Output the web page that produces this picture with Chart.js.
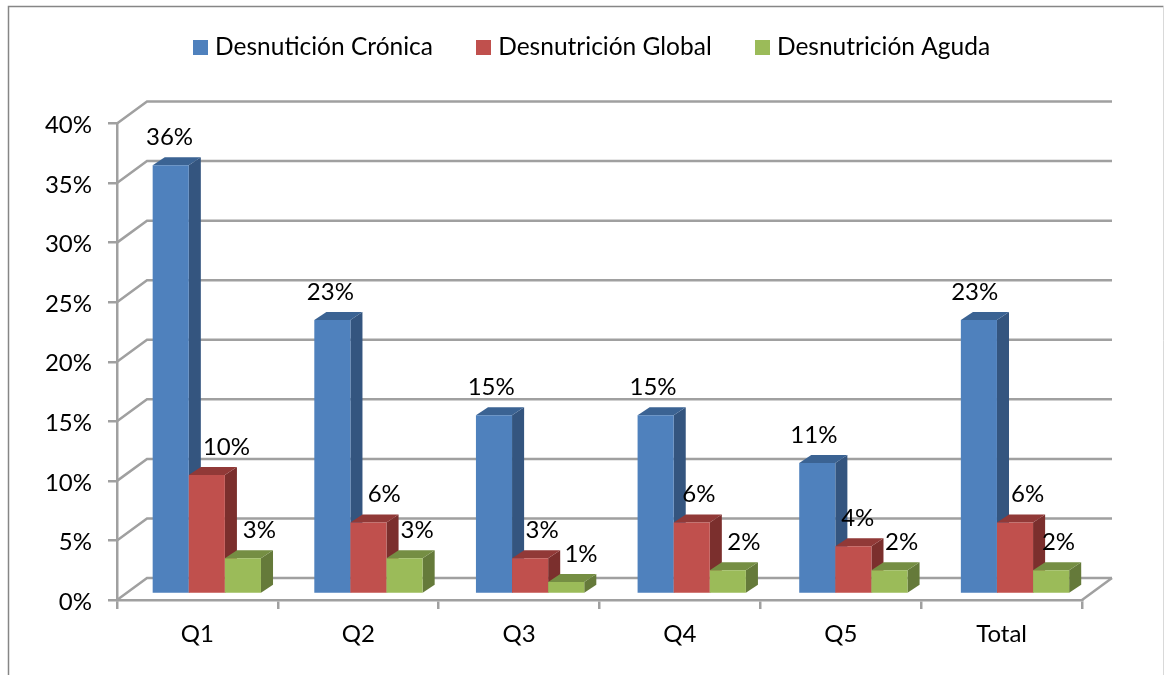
<!DOCTYPE html>
<html>
<head>
<meta charset="utf-8">
<title>Desnutrición por quintil</title>
<script src="https://cdn.jsdelivr.net/npm/chart.js@4/dist/chart.umd.min.js"></script>
<style>
  html, body { margin: 0; padding: 0; background: #fff; overflow: hidden; }
  canvas { display: block; }
</style>
</head>
<body>
<canvas id="grafico" width="1164" height="675"></canvas>
<script>
var categorias = ['Q1', 'Q2', 'Q3', 'Q4', 'Q5', 'Total'];
var cronica = [36, 23, 15, 15, 11, 23];
var global = [10, 6, 3, 6, 4, 6];
var aguda = [3, 3, 1, 2, 2, 2];

var gris = '#a0a0a0';
var fuente = 'Lato, sans-serif';

// frente, lado, tapa
var azul = ['#4f81bd', '#34557f', '#3b6393'];
var rojo = ['#c0504d', '#7b2f2d', '#913937'];
var verde = ['#9bbb59', '#657a3a', '#758e43'];
var colores = [azul, rojo, verde];

// las etiquetas del original estan movidas a mano, una por una
var etiquetaX = [
    [-1, -1, -1, 0, 0, 0],
    [20, 17, 14, 10, 8, 17],
    [17, 14, 17, 19, 16, 12]
];
var etiquetaY = -28;

// profundidad del grafico
var paredX = 30, paredY = -22;
var barraX = 9, barraY = -6;
var fondoX = 12, fondoY = -8;
var estira = 1.005;

function poligono(ctx, color, puntos) {
    ctx.fillStyle = color;
    ctx.beginPath();
    ctx.moveTo(puntos[0], puntos[1]);
    for (var i = 2; i < puntos.length; i += 2) {
        ctx.lineTo(puntos[i], puntos[i + 1]);
    }
    ctx.closePath();
    ctx.fill();
}

// cuadradito de la leyenda
function caja(color) {
    var c = document.createElement('canvas');
    c.width = 15;
    c.height = 15;
    var g = c.getContext('2d');
    g.fillStyle = color;
    g.fillRect(0, 0, 15, 15);
    return c;
}

var marco = {
    id: 'marco',
    beforeDraw: function (chart) {
        var ctx = chart.ctx;
        ctx.save();
        ctx.strokeStyle = '#868686';
        ctx.lineWidth = 1.5;
        ctx.beginPath();
        ctx.moveTo(8.5, 675);
        ctx.lineTo(8.5, 6.5);
        ctx.lineTo(1163.5, 6.5);
        ctx.stroke();
        ctx.strokeStyle = '#d9d9d9';
        ctx.lineWidth = 1;
        ctx.beginPath();
        ctx.moveTo(1163.5, 6.5);
        ctx.lineTo(1163.5, 675);
        ctx.stroke();
        ctx.restore();
    }
};

var barras3d = {
    id: 'barras3d',
    afterLayout: function (chart) {
        // la leyenda va mas arriba y corrida respecto del area libre
        chart.legend.top -= 54;
        chart.legend.left += 53;
        chart.legend.right += 53;
    },
    beforeDatasetsDraw: function (chart) {
        var ctx = chart.ctx;
        var area = chart.chartArea;
        var y = chart.scales.y;

        // pared del fondo
        ctx.save();
        ctx.strokeStyle = gris;
        ctx.lineWidth = 2.5;
        y.ticks.forEach(function (t) {
            var py = y.getPixelForValue(t.value);
            ctx.beginPath();
            ctx.moveTo(area.left, py);
            ctx.lineTo(area.left + paredX, py + paredY);
            ctx.lineTo(area.right + paredX, py + paredY);
            ctx.stroke();
        });
        ctx.beginPath();
        ctx.moveTo(area.right, area.bottom);
        ctx.lineTo(area.right + paredX, area.bottom + paredY);
        ctx.stroke();
        ctx.restore();

        // barras de izquierda a derecha para que tapen bien los lados
        ctx.save();
        ctx.translate(barraX + area.left, barraY);
        ctx.scale(estira, 1);
        ctx.translate(-area.left, 0);
        chart.data.datasets.forEach(function (ds, d) {
            chart.getDatasetMeta(d).data.forEach(function (bar) {
                var izq = bar.x - bar.width / 2;
                var der = bar.x + bar.width / 2;
                poligono(ctx, colores[d][1], [der, bar.y, der + fondoX, bar.y + fondoY, der + fondoX, bar.base + fondoY, der, bar.base]);
                poligono(ctx, colores[d][2], [izq, bar.y, izq + fondoX, bar.y + fondoY, der + fondoX, bar.y + fondoY, der, bar.y]);
                bar.draw(ctx, area);
            });
        });
        ctx.restore();

        // etiquetas
        ctx.save();
        ctx.fillStyle = '#000';
        ctx.font = '24px ' + fuente;
        ctx.textAlign = 'center';
        ctx.textBaseline = 'middle';
        chart.data.datasets.forEach(function (ds, d) {
            chart.getDatasetMeta(d).data.forEach(function (bar, i) {
                ctx.fillText(ds.data[i] + '%', bar.x + barraX + etiquetaX[d][i], bar.y + barraY + etiquetaY);
            });
        });
        ctx.restore();
        return false;
    }
};

new Chart(document.getElementById('grafico'), {
    type: 'bar',
    data: {
        labels: categorias,
        datasets: [
            { label: 'Desnutición Crónica', data: cronica, backgroundColor: azul[0], pointStyle: caja(azul[0]) },
            { label: 'Desnutrición Global', data: global, backgroundColor: rojo[0], pointStyle: caja(rojo[0]) },
            { label: 'Desnutrición Aguda', data: aguda, backgroundColor: verde[0], pointStyle: caja(verde[0]) }
        ]
    },
    options: {
        responsive: false,
        animation: false,
        barPercentage: 1,
        categoryPercentage: 0.67,
        layout: { padding: { left: 0, right: 82, top: 41, bottom: 0 } },
        plugins: {
            tooltip: { enabled: false },
            legend: {
                position: 'top',
                labels: {
                    usePointStyle: true,
                    pointStyleWidth: 5,
                    padding: 48,
                    color: '#000',
                    font: { family: fuente, size: 24.5 }
                }
            }
        },
        scales: {
            x: {
                grid: { drawOnChartArea: false, color: gris, lineWidth: 2.5, tickLength: 9 },
                border: { color: gris, width: 2.5 },
                ticks: { color: '#000', padding: 11, font: { family: fuente, size: 24 } },
                afterFit: function (scale) { scale.height = 75; }
            },
            y: {
                min: 0,
                max: 40,
                grid: { drawOnChartArea: false, color: gris, lineWidth: 2.5, tickLength: 9 },
                border: { color: gris, width: 2.5 },
                ticks: {
                    stepSize: 5,
                    color: '#000',
                    padding: 16,
                    labelOffset: 2,
                    font: { family: fuente, size: 24 },
                    callback: function (v) { return v + '%'; }
                },
                afterFit: function (scale) { scale.width = 117; }
            }
        }
    },
    plugins: [marco, barras3d]
});
</script>
</body>
</html>
